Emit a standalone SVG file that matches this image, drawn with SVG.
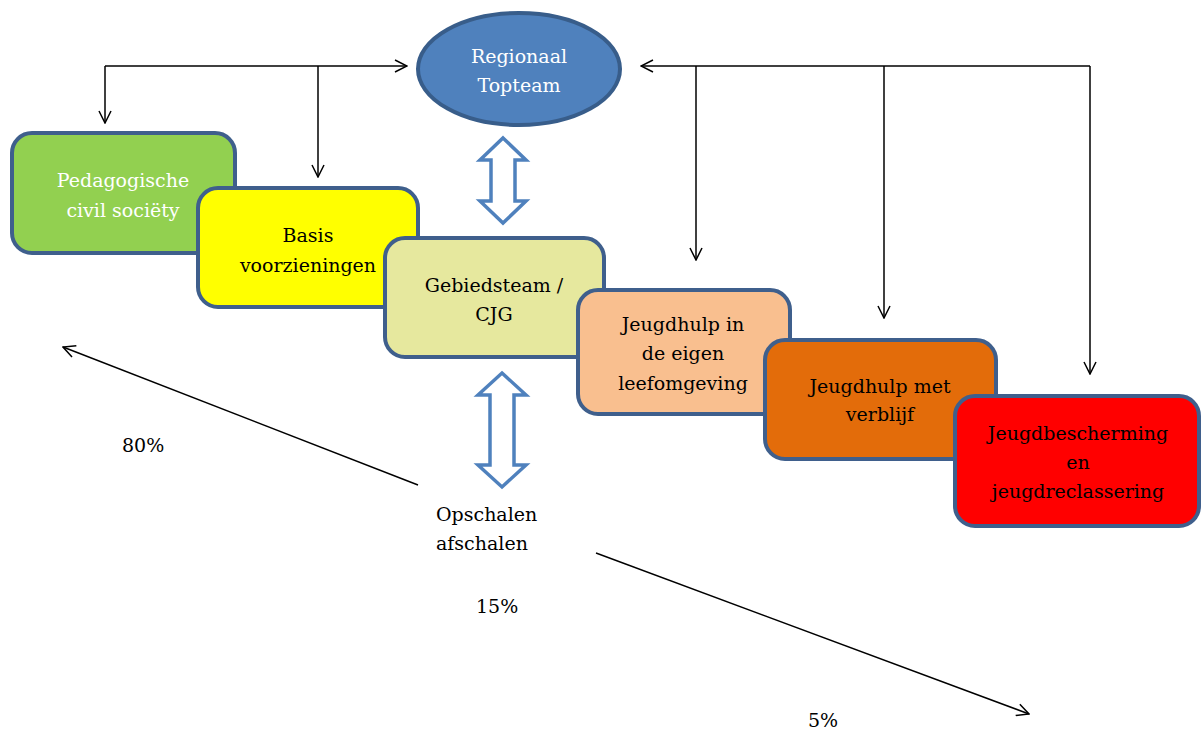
<svg xmlns="http://www.w3.org/2000/svg" width="1202" height="731" viewBox="0 0 1202 731">
<defs>
<style>
.box{stroke:#3F5F8C;stroke-width:4}
.t{font-family:"DejaVu Serif","Liberation Serif",serif;font-size:19px;text-anchor:middle;fill:#000}
.w{fill:#fff}
.l{font-family:"DejaVu Serif","Liberation Serif",serif;font-size:19px;fill:#000}
.c{fill:none;stroke:#000;stroke-width:1.5}
.dbl{fill:#fff;stroke:#4F81BD;stroke-width:3.5;stroke-linejoin:miter}
</style>
<marker id="ah" viewBox="0 0 14 14" refX="13" refY="7" markerWidth="14" markerHeight="14" markerUnits="userSpaceOnUse" orient="auto">
<path d="M1,1 L13,7 L1,13" fill="none" stroke="#000" stroke-width="1.5"/>
</marker>
</defs>
<rect width="1202" height="731" fill="#fff"/>

<g id="connectors">
<line class="c" x1="105" y1="66" x2="407" y2="66" marker-end="url(#ah)"/>
<line class="c" x1="105" y1="66" x2="105" y2="123" marker-end="url(#ah)"/>
<line class="c" x1="318" y1="66" x2="318" y2="177" marker-end="url(#ah)"/>
<line class="c" x1="1090" y1="66" x2="641" y2="66" marker-end="url(#ah)"/>
<line class="c" x1="1090" y1="66" x2="1090" y2="374" marker-end="url(#ah)"/>
<line class="c" x1="696" y1="66" x2="696" y2="260" marker-end="url(#ah)"/>
<line class="c" x1="884" y1="66" x2="884" y2="318" marker-end="url(#ah)"/>
<line class="c" x1="418" y1="485" x2="63" y2="347" marker-end="url(#ah)"/>
<line class="c" x1="596" y1="553" x2="1029" y2="714" marker-end="url(#ah)"/>
<path class="dbl" d="M503,138 L526,160 L515,160 L515,201 L526,201 L503,223 L480,201 L491,201 L491,160 L480,160 Z"/>
<path class="dbl" d="M502,373 L526,395 L514,395 L514,465 L526,465 L502,487 L478,465 L490,465 L490,395 L478,395 Z"/>
</g>

<g id="topteam">
<ellipse cx="519" cy="69" rx="101" ry="56" fill="#4F81BD" stroke="#385D8A" stroke-width="4"/>
<text class="t w" x="519" y="63">Regionaal</text>
<text class="t w" x="519" y="92">Topteam</text>
</g>

<g id="pedagogische">
<rect class="box" x="12" y="133" width="223" height="120" rx="20" fill="#92D050"/>
<text class="t w" x="123" y="187">Pedagogische</text>
<text class="t w" x="123" y="217">civil sociëty</text>
</g>

<g id="basis">
<rect class="box" x="198" y="188" width="220" height="119" rx="20" fill="#FFFF00"/>
<text class="t" x="308" y="242">Basis</text>
<text class="t" x="308" y="272">voorzieningen</text>
</g>

<g id="gebiedsteam">
<rect class="box" x="385" y="238" width="219" height="119" rx="20" fill="#E6E89E"/>
<text class="t" x="494" y="292">Gebiedsteam /</text>
<text class="t" x="494" y="321">CJG</text>
</g>

<g id="jeugdhulp-eigen">
<rect class="box" x="578" y="290" width="212" height="124" rx="20" fill="#F9BF8F"/>
<text class="t" x="683" y="331">Jeugdhulp in</text>
<text class="t" x="683" y="360">de eigen</text>
<text class="t" x="683" y="390">leefomgeving</text>
</g>

<g id="jeugdhulp-verblijf">
<rect class="box" x="765" y="340" width="231" height="119" rx="20" fill="#E36C0A"/>
<text class="t" x="880" y="393">Jeugdhulp met</text>
<text class="t" x="880" y="421">verblijf</text>
</g>

<g id="jeugdbescherming">
<rect class="box" x="955" y="396" width="244" height="130" rx="20" fill="#FF0000"/>
<text class="t" x="1078" y="440">Jeugdbescherming</text>
<text class="t" x="1078" y="469">en</text>
<text class="t" x="1078" y="498">jeugdreclassering</text>
</g>

<g id="labels">
<text class="l" x="122" y="452">80%</text>
<text class="l" x="436" y="521">Opschalen</text>
<text class="l" x="436" y="550">afschalen</text>
<text class="l" x="476" y="613">15%</text>
<text class="l" x="808" y="727">5%</text>
</g>
</svg>
